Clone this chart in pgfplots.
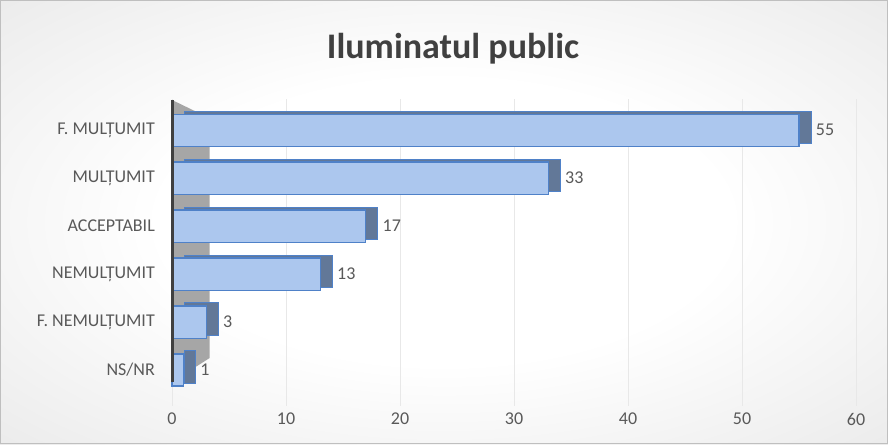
\documentclass[border=0pt]{standalone}
\usepackage{fontspec}
\setmainfont{Carlito}
\usepackage{pgfplots}
\pgfplotsset{compat=1.18}
\definecolor{barfill}{RGB}{172,199,238}
\definecolor{baredge}{RGB}{79,129,200}
\definecolor{barside}{RGB}{98,120,152}
\definecolor{txt}{RGB}{89,89,89}
\definecolor{ttl}{RGB}{64,64,64}
\definecolor{wall}{RGB}{166,166,166}
\definecolor{axisdark}{RGB}{64,64,64}
\pgfdeclareradialshading{bgshade}{\pgfpoint{0bp}{0bp}}{color(0bp)=(white); color(16bp)=(white); color(72bp)=(black!22)}

\begin{document}
\begin{tikzpicture}[x=1pt,y=1pt]
\shade[shading=bgshade] (0,0) rectangle (888,444);
\draw[black!25, line width=0.8pt] (0.4,0.4) rectangle (887.6,443.6);
\node[font=\bfseries\fontsize{36}{40}\selectfont, text=ttl] at (453,395) {Iluminatul public};
\begin{axis}[
  at={(172pt,38pt)}, anchor=south west,
  scale only axis, width=684pt, height=307pt,
  xmin=0, xmax=60, ymin=-0.75, ymax=5.65,
  xtick={0,10,...,60},
  ytick={0,...,5},
  yticklabels={NS/NR, F. NEMULȚUMIT, NEMULȚUMIT, ACCEPTABIL, MULȚUMIT, F. MULȚUMIT},
  major tick length=0pt,
  axis line style={draw=none},
  xmajorgrids, grid style={black!9, line width=0.6pt},
  tick label style={font=\fontsize{18}{21}\selectfont, text=txt},
  yticklabel style={inner sep=0pt, xshift=-17pt},
  xticklabel style={inner sep=0pt, yshift=-7pt},
  /pgf/number format/assume math mode=true,
  xbar, bar width=0.67, bar shift=0pt,
  nodes near coords,
  nodes near coords style={font=\fontsize{18}{21}\selectfont, text=txt, anchor=west, xshift=13pt},
  clip=false,
]
\fill[wall] (axis cs:0,-0.25) -- (axis cs:3.3,0.25) -- (axis cs:3.3,5.25) -- (axis cs:0,5.63) -- cycle;
\addplot[xshift=12pt, yshift=3pt, bar shift=0pt, fill=barside, draw=baredge, line width=1pt, nodes near coords={}] coordinates {
  (55,5) (33,4) (17,3) (13,2) (3,1) (1,0)
};
\addplot[bar shift=0pt, fill=barfill, draw=baredge, line width=1.2pt] coordinates {
  (55,5) (33,4) (17,3) (13,2) (3,1) (1,0)
};
\coordinate (ylow) at (axis cs:0,-0.25);
\coordinate (yhigh) at (axis cs:0,5.63);
\end{axis}
\draw[line width=3pt, axisdark] (ylow) -- (yhigh);
\end{tikzpicture}
\end{document}
